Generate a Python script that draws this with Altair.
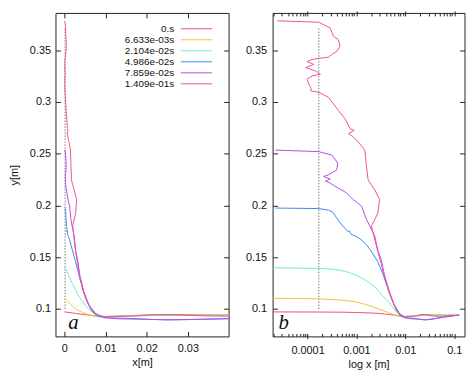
import altair as alt
import pandas as pd

FONT = "Liberation Sans"

series_names = ["0.s", "6.633e-03s", "2.104e-02s", "4.986e-02s", "7.859e-02s", "1.409e-01s"]
series_colors = ["#f0506e", "#f5c040", "#70ecc8", "#3c8ce6", "#b44ee6", "#f0509e"]

x_s0 = [1e-5, 1e-4, 5e-4, 1e-3, 2e-3, 3e-3, 4e-3, 5e-3, 6e-3, 7e-3, 8e-3, 0.01, 0.013, 0.017, 0.022, 0.027, 0.032, 0.04, 0.05, 0.07, 0.1, 0.126]
y_s0 = [0.0972, 0.0971, 0.0969, 0.0966, 0.0961, 0.0956, 0.0950, 0.0945, 0.0940, 0.0935, 0.0931, 0.0928, 0.0930, 0.0937, 0.0945, 0.0947, 0.0944, 0.0941, 0.0940, 0.0939, 0.0940, 0.0941]

x_s1 = [1e-5, 1.7e-4, 5e-4, 9.3e-4, 1.5e-3, 2.2e-3, 2.75e-3, 3.5e-3, 4.5e-3, 5.5e-3, 6.5e-3, 7.7e-3, 0.01, 0.015, 0.02, 0.03, 0.05, 0.08, 0.126]
y_s1 = [0.1105, 0.1098, 0.1085, 0.1070, 0.1045, 0.1020, 0.1002, 0.0985, 0.0965, 0.0950, 0.0938, 0.0930, 0.0928, 0.0935, 0.0940, 0.0942, 0.0942, 0.0941, 0.0941]

x_s2 = [1e-5, 1.7e-4, 3.3e-4, 5.8e-4, 9e-4, 1.27e-3, 1.8e-3, 2.36e-3, 2.75e-3, 3.4e-3, 4.4e-3, 5e-3, 6e-3, 7e-3, 8e-3, 0.01, 0.015, 0.02, 0.03, 0.05, 0.08, 0.126]
y_s2 = [0.1400, 0.1392, 0.1385, 0.1365, 0.1335, 0.1300, 0.1255, 0.1215, 0.1180, 0.1130, 0.1075, 0.1040, 0.0995, 0.0960, 0.0935, 0.0925, 0.0930, 0.0935, 0.0938, 0.0938, 0.0940, 0.0941]

x_s3 = [2.2e-5, 1.7e-4, 2.7e-4, 3.3e-4, 3.8e-4, 4.5e-4, 5.4e-4, 6.2e-4, 6.8e-4, 7.2e-4, 7.8e-4, 1.0e-3, 1.25e-3, 1.6e-3, 2.0e-3, 2.7e-3, 3.4e-3, 4.4e-3, 5.2e-3, 6.5e-3, 8e-3, 0.01, 0.015, 0.02, 0.025, 0.03, 0.04, 0.06, 0.1, 0.126]
y_s3 = [0.1975, 0.1970, 0.1955, 0.1935, 0.1890, 0.1840, 0.1795, 0.1765, 0.1745, 0.1755, 0.1720, 0.1700, 0.1670, 0.1620, 0.1560, 0.1460, 0.1350, 0.1200, 0.1100, 0.0990, 0.0930, 0.0915, 0.0910, 0.0900, 0.0895, 0.0898, 0.0908, 0.0922, 0.0935, 0.0940]

x_s4 = [2.2e-5, 1.69e-4, 3.14e-4, 4.15e-4, 3.96e-4, 2.69e-4, 2.13e-4, 2.91e-4, 2.31e-4, 2.91e-4, 3.67e-4, 6.31e-4, 8.61e-4, 1.27e-3, 1.6e-3, 1.87e-3, 2.36e-3, 2.75e-3, 3.2e-3, 3.76e-3, 4.74e-3, 5.98e-3, 7.55e-3, 9.53e-3, 0.013, 0.018, 0.025, 0.03, 0.04, 0.06, 0.1, 0.126]
y_s4 = [0.2535, 0.2520, 0.2487, 0.2408, 0.2344, 0.2296, 0.2280, 0.2255, 0.2233, 0.2217, 0.2185, 0.2121, 0.2057, 0.1994, 0.1866, 0.1803, 0.1707, 0.1564, 0.1480, 0.1325, 0.1165, 0.1038, 0.0958, 0.0917, 0.0905, 0.0902, 0.0895, 0.0897, 0.0905, 0.0920, 0.0935, 0.0940]

x_s5 = [2.4e-5, 1.69e-4, 2.91e-4, 3.39e-4, 4.28e-4, 4.63e-4, 3.96e-4, 3.14e-4, 2.69e-4, 1.69e-4, 1.24e-4, 9.8e-5, 1.34e-4, 9.1e-5, 1.45e-4, 1.83e-4, 1.24e-4, 9.8e-5, 1.06e-4, 1.2e-4, 1.15e-4, 1.69e-4, 2.69e-4, 3.39e-4, 4.28e-4, 5.86e-4, 7.37e-4, 9.0e-4, 6.82e-4, 8.6e-4, 1.08e-3, 1.48e-3, 1.55e-3, 1.6e-3, 1.73e-3, 2.0e-3, 2.36e-3, 2.98e-3, 2.75e-3, 2.3e-3, 2.02e-3, 2.36e-3, 2.75e-3, 3.2e-3, 3.76e-3, 4.74e-3, 5.98e-3, 7.55e-3, 9.53e-3, 0.013, 0.018, 0.022, 0.027, 0.035, 0.05, 0.08, 0.126]
y_s5 = [0.3784, 0.3770, 0.3714, 0.3634, 0.3602, 0.3538, 0.3490, 0.3459, 0.3433, 0.3421, 0.3411, 0.3390, 0.3363, 0.3332, 0.3300, 0.3268, 0.3252, 0.3220, 0.3172, 0.3124, 0.3108, 0.3093, 0.3045, 0.2981, 0.2917, 0.2838, 0.2742, 0.2726, 0.2694, 0.2663, 0.2615, 0.2535, 0.2450, 0.2376, 0.2248, 0.2200, 0.2153, 0.2057, 0.1930, 0.1850, 0.1803, 0.1675, 0.1548, 0.1440, 0.1300, 0.1150, 0.1030, 0.0955, 0.0925, 0.0928, 0.0935, 0.0945, 0.0943, 0.0932, 0.0928, 0.0935, 0.0940]

marker_x = [1.7e-4, 1.7e-4]
marker_y = [0.1, 0.372]

y_ticks = [0.1, 0.15, 0.2, 0.25, 0.3, 0.35]
lin_x_ticks = [0, 0.01, 0.02, 0.03]
log_major = [0.0001, 0.001, 0.01, 0.1]
log_minor = [2e-5, 3e-5, 4e-5, 5e-5, 6e-5, 7e-5, 8e-5, 9e-5,
             2e-4, 3e-4, 4e-4, 5e-4, 6e-4, 7e-4, 8e-4, 9e-4,
             2e-3, 3e-3, 4e-3, 5e-3, 6e-3, 7e-3, 8e-3, 9e-3,
             2e-2, 3e-2, 4e-2, 5e-2, 6e-2, 7e-2, 8e-2, 9e-2]

rows = []
for name, xs, ys in zip(series_names, [x_s0, x_s1, x_s2, x_s3, x_s4, x_s5],
                        [y_s0, y_s1, y_s2, y_s3, y_s4, y_s5]):
    assert len(xs) == len(ys)
    for i, (xv, yv) in enumerate(zip(xs, ys)):
        rows.append({"series": name, "i": i, "x": xv, "y": yv})
df = pd.DataFrame(rows)
mdf = pd.DataFrame({"x": marker_x, "y": marker_y})
leg_df = pd.DataFrame({"series": series_names})

PLOT_H = 327
y_scale = alt.Scale(domain=[0.0735, 0.386], nice=False, zero=False)
c_scale = alt.Scale(domain=series_names, range=series_colors)
lin_scale = alt.Scale(domain=[-0.00216, 0.0399], nice=False, zero=False)
log_scale = alt.Scale(type="log", domain=[1.93e-5, 0.1623], nice=False)

is_major = "indexof([0.0001,0.001,0.01,0.1], datum.value) >= 0"


def y_axis_left(title, pad):
    return alt.Axis(orient="left", values=y_ticks, format=".2~f", title=title,
                    offset=-5, tickSize=5, labelPadding=pad, titlePadding=10)


y_axis_right = alt.Axis(orient="right", values=y_ticks, labels=False, title=None,
                        offset=-5, tickSize=5)

lin_bottom = alt.Axis(orient="bottom", values=lin_x_ticks, format=".2~f", title="x[m]",
                      offset=-5, tickSize=5, labelPadding=6, titlePadding=3)
lin_top = alt.Axis(orient="top", values=lin_x_ticks, labels=False, title=None,
                   offset=-5, tickSize=5)

log_ticksize = {"condition": {"test": is_major, "value": 5}, "value": 3}
log_bottom = alt.Axis(orient="bottom", values=log_major + log_minor, title="log x [m]",
                      labelExpr=is_major + " ? format(datum.value, '.4~f') : ''",
                      labelOverlap=False, offset=-3, tickSize=log_ticksize,
                      labelPadding=6, titlePadding=3)
log_top = alt.Axis(orient="top", values=log_major + log_minor, labels=False, title=None,
                   offset=-3, tickSize=log_ticksize)


def make_panel(x_scale, x_bottom, x_top, y_left, width, letter, letter_x, legend):
    marker = alt.Chart(mdf).mark_line(strokeWidth=1, color="#777777",
                                      strokeDash=[1.5, 1.5], clip=True).encode(
        x=alt.X("x:Q", scale=x_scale, axis=x_top),
        y=alt.Y("y:Q", scale=y_scale, axis=y_axis_right),
    )
    lines = alt.Chart(df).mark_line(strokeWidth=1, clip=True).encode(
        x=alt.X("x:Q", scale=x_scale, axis=x_bottom),
        y=alt.Y("y:Q", scale=y_scale, axis=y_left),
        color=alt.Color("series:N", scale=c_scale, legend=None),
        order=alt.Order("i:Q"),
    )
    letter_layer = alt.Chart(pd.DataFrame({"t": [letter]})).mark_text(
        font="Liberation Serif", fontStyle="italic", fontSize=21, align="left",
        baseline="alphabetic", color="#111111").encode(
        x=alt.value(letter_x), y=alt.value(319.5), text="t:N")
    layers = [marker, lines]
    if legend:
        leg_y = alt.Scale(type="point", domain=series_names, range=[16, 71.7], padding=0)
        leg_rule = alt.Chart(leg_df).mark_rule(strokeWidth=1).encode(
            x=alt.value(126.7), x2=alt.value(158.3),
            y=alt.Y("series:N", scale=leg_y, axis=None),
            color=alt.Color("series:N", scale=c_scale, legend=None))
        leg_text = alt.Chart(leg_df).mark_text(
            align="right", baseline="middle", font=FONT, fontSize=10, color="#111111").encode(
            x=alt.value(120),
            y=alt.Y("series:N", scale=leg_y, axis=None),
            text="series:N")
        layers += [leg_rule, leg_text]
    layers.append(letter_layer)
    return alt.layer(*layers).resolve_scale(y="independent").resolve_axis(
        x="independent", y="independent").properties(width=width, height=PLOT_H)


left = make_panel(lin_scale, lin_bottom, lin_top, y_axis_left("y[m]", 5), 175, "a", 13, True)
right = make_panel(log_scale, log_bottom, log_top, y_axis_left(None, 6), 194, "b", 6, False)

chart = alt.hconcat(left, right, spacing=15.5).properties(
    padding={"left": 0, "top": 0, "right": 0, "bottom": 0}
).configure_view(stroke="#222222", strokeWidth=1).configure_axis(
    labelFont=FONT, labelFontSize=11, labelColor="#111111",
    titleFont=FONT, titleFontSize=11, titleFontWeight="normal", titleColor="#111111",
    tickColor="#222222", tickWidth=1, domain=False, grid=False,
)

chart.save("out.html", embed_options={"renderer": "svg", "actions": False})
